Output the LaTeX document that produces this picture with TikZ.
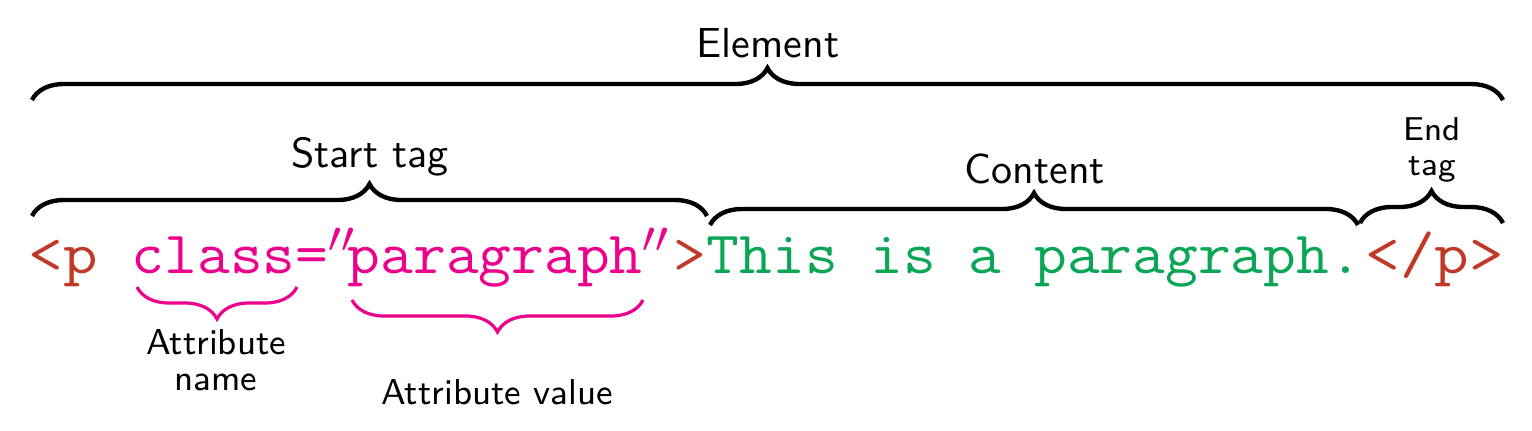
\documentclass[tikz,border=0pt]{standalone}
\usepackage{fontspec}
\usetikzlibrary{decorations.pathreplacing}
\definecolor{tagc}{RGB}{192,57,38}
\definecolor{attc}{RGB}{236,0,140}
\definecolor{contc}{RGB}{10,166,85}
\newcommand{\cwide}[1]{\scalebox{1.06}[1]{#1}}
\newcommand{\twide}[1]{\scalebox{1.12}[1]{#1}}
\begin{document}
\begin{tikzpicture}[x=0.25pt,y=-0.25pt,
  brc/.style={decorate,decoration={brace,amplitude=8pt},line width=1.1pt,draw=black},
  brcp/.style={decorate,decoration={brace,amplitude=8pt},line width=0.8pt,draw=attc},
  lbl/.style={inner sep=0pt,font=\fontsize{10.5}{12}\selectfont\sffamily},
  smlbl/.style={inner sep=0pt,align=center,font=\fontsize{8.25}{8.75}\selectfont\sffamily},
  attlbl/.style={inner sep=0pt,align=center,font=\fontsize{9}{9}\selectfont\sffamily},
  codetxt/.style={inner sep=0pt,font=\fontsize{15}{18}\selectfont\ttfamily}]
\useasboundingbox (0,0) rectangle (1532,430);
% code line, piece by piece
\node[codetxt,text=tagc,anchor=base west] (open) at (28,273) {\twide{<p}};
\node[codetxt,text=attc,anchor=base west] (attr) at (131,273) {\cwide{class=$''$}\kern-4pt};
\node[codetxt,text=attc,anchor=base west] (value) at (347,273) {\cwide{paragraph$''$}};
\node[codetxt,text=tagc,anchor=base west] (gt) at (673,273) {\cwide{>}};
\node[codetxt,text=contc,anchor=base west] (body) at (706,273) {\cwide{This is a paragraph.}};
\node[codetxt,text=tagc,anchor=base east] (close) at (1505,273) {\twide{</p>}};
% labels
\node[lbl,anchor=base] (element) at (768,57) {Element};
\node[lbl,anchor=base] (starttag) at (370,167) {Start tag};
\node[lbl,anchor=base] (content) at (1035,183) {Content};
\node[smlbl,anchor=north] (endtag) at (1432,117) {End\\tag};
\node[attlbl,anchor=north] (attname) at (216,329) {Attribute\\name};
\node[attlbl,anchor=base] (attvalue) at (497,404) {Attribute value};
% brace end points
\coordinate (eL) at (32,100);   \coordinate (eR) at (1503,100);
\coordinate (sL) at (32,216);   \coordinate (sR) at (707,216);
\coordinate (cL) at (710,225);  \coordinate (cR) at (1358,225);
\coordinate (tL) at (1360,223); \coordinate (tR) at (1503,223);
\coordinate (nL) at (137,287);  \coordinate (nR) at (297,287);
\coordinate (vL) at (352,300);  \coordinate (vR) at (643,300);
% braces
\draw[brc] (eL) -- (eR);
\draw[brc] (sL) -- (sR);
\draw[brc] (cL) -- (cR);
\draw[brc] (tL) -- (tR);
\draw[brcp] (nR) -- (nL);
\draw[brcp] (vR) -- (vL);
\end{tikzpicture}
\end{document}
